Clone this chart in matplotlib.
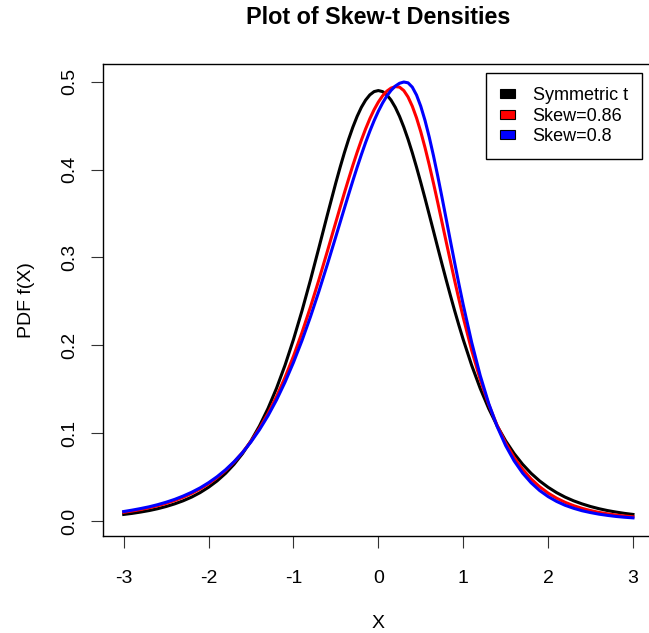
import matplotlib
matplotlib.use("Agg")
import matplotlib.pyplot as plt
from matplotlib.patches import Patch

plt.rcParams['font.family'] = ['Liberation Sans', 'DejaVu Sans']

# x positions the densities were evaluated on (finer spacing around the peaks)
x_vals = [-3.0, -2.9, -2.8, -2.7, -2.6, -2.5, -2.4, -2.3, -2.2, -2.1,
          -2.0, -1.9, -1.8, -1.7, -1.6, -1.5, -1.4, -1.3, -1.2, -1.1,
          -1.0, -0.9, -0.8, -0.7, -0.6, -0.5,
          -0.45, -0.4, -0.35, -0.3, -0.25, -0.2, -0.15, -0.1, -0.05, 0.0,
          0.05, 0.1, 0.15, 0.2, 0.25, 0.3, 0.35, 0.4, 0.45, 0.5,
          0.55, 0.6, 0.65, 0.7, 0.75, 0.8, 0.85, 0.9, 0.95, 1.0,
          1.1, 1.2, 1.3, 1.4, 1.5, 1.6, 1.7, 1.8, 1.9, 2.0,
          2.1, 2.2, 2.3, 2.4, 2.5, 2.6, 2.7, 2.8, 2.9, 3.0]

# symmetric t (df = 5, unit variance)
sym_t = [0.0077, 0.0089, 0.0104, 0.0121, 0.0142, 0.0167, 0.0197, 0.0232, 0.0274, 0.0325,
         0.0386, 0.0458, 0.0544, 0.0647, 0.0769, 0.0914, 0.1084, 0.1282, 0.1511, 0.1772,
         0.2066, 0.2391, 0.2742, 0.3111, 0.3486, 0.3852,
         0.4026, 0.4191, 0.4344, 0.4482, 0.4604, 0.4707, 0.4789, 0.4849, 0.4886, 0.4898,
         0.4886, 0.4849, 0.4789, 0.4707, 0.4604, 0.4482, 0.4344, 0.4191, 0.4026, 0.3852,
         0.3672, 0.3486, 0.3299, 0.3111, 0.2925, 0.2742, 0.2564, 0.2391, 0.2225, 0.2066,
         0.1772, 0.1511, 0.1282, 0.1084, 0.0914, 0.0769, 0.0647, 0.0544, 0.0458, 0.0386,
         0.0325, 0.0274, 0.0232, 0.0197, 0.0167, 0.0142, 0.0121, 0.0104, 0.0089, 0.0077]

# skew = 0.86
skew_086 = [0.0101, 0.0116, 0.0133, 0.0153, 0.0176, 0.0203, 0.0235, 0.0272, 0.0316, 0.0367,
            0.0426, 0.0496, 0.0577, 0.0672, 0.0782, 0.0909, 0.1057, 0.1225, 0.1417, 0.1634,
            0.1876, 0.2144, 0.2435, 0.2746, 0.3072, 0.3404,
            0.3570, 0.3734, 0.3893, 0.4048, 0.4195, 0.4334, 0.4462, 0.4578, 0.4680, 0.4767,
            0.4838, 0.4891, 0.4926, 0.4943, 0.4937, 0.4898, 0.4825, 0.4720, 0.4587, 0.4429,
            0.4249, 0.4052, 0.3843, 0.3624, 0.3400, 0.3175, 0.2952, 0.2733, 0.2521, 0.2318,
            0.1942, 0.1612, 0.1328, 0.1088, 0.0889, 0.0724, 0.0590, 0.0480, 0.0392, 0.0320,
            0.0262, 0.0215, 0.0177, 0.0146, 0.0121, 0.0100, 0.0084, 0.0070, 0.0059, 0.0050]

# skew = 0.8
skew_08 = [0.0110, 0.0126, 0.0144, 0.0164, 0.0188, 0.0216, 0.0248, 0.0286, 0.0329, 0.0379,
           0.0438, 0.0506, 0.0585, 0.0676, 0.0781, 0.0902, 0.1041, 0.1199, 0.1378, 0.1580,
           0.1805, 0.2053, 0.2324, 0.2615, 0.2922, 0.3239,
           0.3399, 0.3559, 0.3717, 0.3873, 0.4024, 0.4169, 0.4307, 0.4436, 0.4555, 0.4662,
           0.4756, 0.4836, 0.4900, 0.4949, 0.4981, 0.4995, 0.4986, 0.4937, 0.4847, 0.4719,
           0.4558, 0.4368, 0.4155, 0.3925, 0.3683, 0.3434, 0.3183, 0.2936, 0.2694, 0.2462,
           0.2033, 0.1658, 0.1340, 0.1076, 0.0860, 0.0686, 0.0547, 0.0437, 0.0349, 0.0280,
           0.0225, 0.0181, 0.0147, 0.0119, 0.0098, 0.0080, 0.0066, 0.0054, 0.0045, 0.0038]

labels = ["Symmetric t", "Skew=0.86", "Skew=0.8"]
colors = ["black", "red", "blue"]
xticks = [-3, -2, -1, 0, 1, 2, 3]
yticks = [0.0, 0.1, 0.2, 0.3, 0.4, 0.5]

fig = plt.figure(figsize=(6.49, 6.33), dpi=100)
ax = fig.add_axes([0.1592, 0.1537, 0.8475, 0.7452])

for y, c in zip([sym_t, skew_086, skew_08], colors):
    ax.plot(x_vals, y, color=c, lw=2.2, solid_joinstyle='round')

ax.set_xlim(-3.24, 3.24)
ax.set_ylim(-0.0165, 0.5200)
ax.set_xticks(xticks)
ax.set_xticklabels([str(t) for t in xticks])
ax.set_yticks(yticks)
ax.set_yticklabels(["%.1f" % t for t in yticks], rotation=90, va='center')
ax.tick_params(direction='out', length=8.4, width=0.8, color='#333333', labelsize=14)
ax.tick_params(axis='x', pad=16)
ax.tick_params(axis='y', pad=10)
for s in ax.spines.values():
    s.set_linewidth(1.0)
    s.set_color('black')

fig.text(0.5825, 0.9716, "Plot of Skew-t Densities", fontsize=16.8,
         fontweight='bold', ha='center', va='center')
ax.set_xlabel("X", fontsize=14)
ax.xaxis.set_label_coords(0.5, -0.187)
ax.xaxis.label.set_va('center')
ax.set_ylabel("PDF f(X)", fontsize=14)
ax.yaxis.set_label_coords(-0.139, 0.5)
ax.yaxis.label.set_va('center')

handles = [Patch(facecolor=c, edgecolor='black', lw=0.8) for c in colors]
leg = ax.legend(handles, labels, loc='upper right', bbox_to_anchor=(0.9795, 0.981),
                fontsize=13, fancybox=False, framealpha=1, edgecolor='black',
                handlelength=0.83, handleheight=0.39, handletextpad=0.95,
                labelspacing=0.18, borderpad=0.8, borderaxespad=0)
leg.get_frame().set_linewidth(1.0)

fig.savefig("out.png", dpi=100)
